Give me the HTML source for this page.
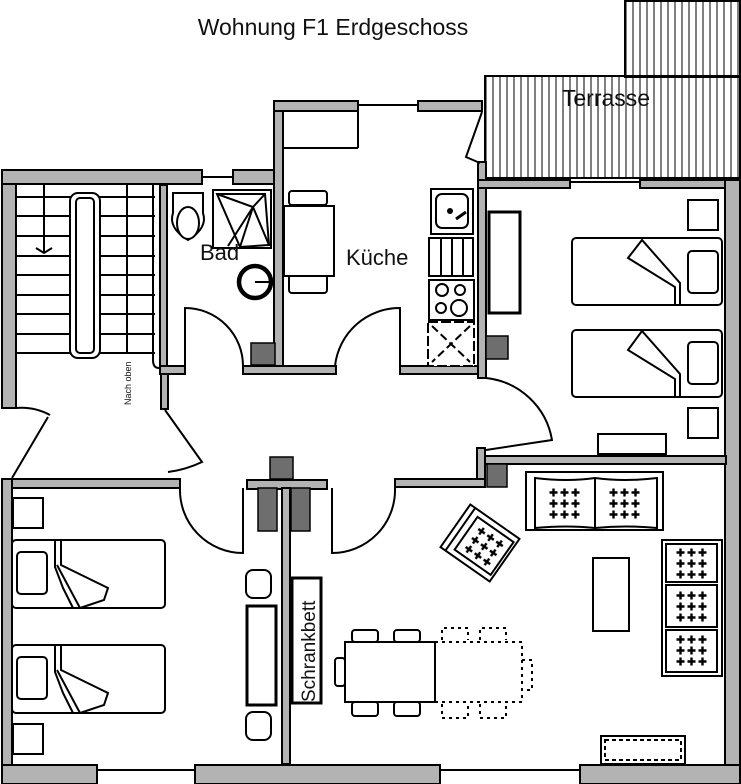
<!DOCTYPE html>
<html><head><meta charset="utf-8"><style>
html,body{margin:0;padding:0;background:#fff}
svg{display:block}
text{font-family:"Liberation Sans",sans-serif;fill:#111}
</style></head><body>
<svg width="741" height="784" viewBox="0 0 741 784" xmlns="http://www.w3.org/2000/svg">
<defs>
<pattern id="hatch" width="7" height="10" patternUnits="userSpaceOnUse"><line x1="3" y1="0" x2="3" y2="10" stroke="#000" stroke-width="1"/></pattern>
<pattern id="plus" patternUnits="objectBoundingBox" patternContentUnits="userSpaceOnUse" x="0" y="0" width="0.3333" height="0.3333"><path d="M5.5 1.5v8M1.5 5.5h8" stroke="#000" stroke-width="2.4"/></pattern>
</defs>
<text x="333" y="35" font-size="23" text-anchor="middle">Wohnung F1 Erdgeschoss</text>

<rect x="625" y="1" width="115" height="76" fill="url(#hatch)" stroke="#000" stroke-width="2"/>
<rect x="485" y="76" width="255" height="102" fill="url(#hatch)" stroke="#000" stroke-width="2"/>
<text x="606" y="106" font-size="23" text-anchor="middle">Terrasse</text>

<g fill="#b3b3b3" stroke="#000" stroke-width="2">
<rect x="2" y="170" width="14" height="238"/>
<rect x="2" y="170" width="200" height="14"/>
<rect x="233" y="170" width="47" height="14"/>
<rect x="274" y="101" width="9" height="270"/>
<rect x="274" y="101" width="84" height="10"/>
<rect x="418" y="101" width="64" height="10"/>
<rect x="160" y="185" width="7" height="186"/>
<rect x="160" y="366" width="25" height="8"/>
<rect x="243" y="366" width="93" height="8"/>
<rect x="400" y="366" width="82" height="8"/>
<rect x="478" y="162" width="8" height="216"/>
<rect x="161" y="374" width="7" height="35"/>
<rect x="478" y="180" width="92" height="8"/>
<rect x="640" y="180" width="101" height="8"/>
<rect x="725" y="180" width="15" height="604"/>
<rect x="484" y="456" width="242" height="8"/>
<rect x="477" y="448" width="8" height="38"/>
<rect x="395" y="479" width="90" height="8"/>
<rect x="2" y="479" width="178" height="9"/>
<rect x="2" y="479" width="10" height="305"/>
<rect x="247" y="480" width="80" height="9"/>
<rect x="282" y="488" width="8" height="276"/>
<rect x="2" y="765" width="95" height="19"/>
<rect x="195" y="765" width="245" height="19"/>
<rect x="580" y="765" width="160" height="19"/>
</g>
<g stroke="#000" stroke-width="2" fill="none">
<line x1="202" y1="177" x2="233" y2="177"/>
<line x1="358" y1="105" x2="418" y2="105"/>
<line x1="358" y1="111" x2="358" y2="148"/>
<line x1="283" y1="148" x2="358" y2="148"/>
<line x1="570" y1="182" x2="640" y2="182"/>
<line x1="97" y1="770" x2="195" y2="770"/>
<line x1="440" y1="770" x2="580" y2="770"/>
</g>
<g fill="#6e6e6e" stroke="#000" stroke-width="1.5">
<rect x="270" y="457" width="23" height="22"/>
<rect x="258" y="488" width="19" height="43"/>
<rect x="291" y="488" width="19" height="43"/>
<rect x="251" y="343" width="24" height="22"/>
<rect x="486" y="336" width="22" height="23"/>
<rect x="487" y="464" width="20" height="23"/>
</g>

<g stroke="#000" stroke-width="2" fill="none">
<path d="M16 197H155M16 216H155M16 236H155M16 256H155M16 275H155M16 295H155M16 314H155M16 334H155M16 353H155"/>
<path d="M44 184V253M127 184V353M36 248l8 5 8-5"/>
<rect x="70" y="193" width="30" height="165" rx="8" fill="#fff"/>
<rect x="76" y="198" width="18" height="155" rx="4"/>
<path d="M153 185V360q0 8 6 8"/>
<path d="M185 374V308A58 58 0 0 1 243 366"/>
<path d="M400 366V308A65 65 0 0 0 335 366"/>
<path d="M486 378A75 75 0 0 1 552 440L486 450"/>
<path d="M12 478L48 417M16 408A60 60 0 0 1 50 415"/>
<path d="M165 410L202 462Q185 470 168 472"/>
<path d="M180 488A63 63 0 0 0 243 553V488"/>
<path d="M395 488A63 63 0 0 1 332 553V488"/>
<path d="M482 112L466 157L480 163"/>
</g>
<text transform="translate(131,405) rotate(-90)" font-size="9">Nach oben</text>

<g stroke="#000" stroke-width="2" fill="#fff">
<path d="M173 193h30v20q5 15-15 27q-20-12-15-27z"/>
<ellipse cx="188" cy="223" rx="11" ry="16"/>
<rect x="213" y="190" width="58" height="58"/>
<path d="M217 194L265 194L269 245L240 247Z" fill="none"/>
<path d="M217 194L253 207L228 246M253 207L240 247M253 207L265 194M253 207L269 245" fill="none"/>
<circle cx="255" cy="282" r="16" stroke-width="4.5"/>
<path d="M255 282h14"/>
</g>
<text x="200" y="260" font-size="22">Bad</text>

<g stroke="#000" stroke-width="2" fill="#fff">
<rect x="289" y="191" width="38" height="14" rx="3"/>
<rect x="289" y="275" width="38" height="18" rx="3"/>
<rect x="284" y="206" width="50" height="70"/>
<rect x="431" y="189" width="42" height="45"/>
<rect x="436" y="194" width="32" height="34" rx="6"/>
<rect x="429" y="238" width="44" height="38"/>
<path d="M441 238v38M452 238v38M463 238v38"/>
<rect x="429" y="280" width="45" height="40"/>
<circle cx="442" cy="290" r="6"/><circle cx="460" cy="290" r="5"/><circle cx="441" cy="308" r="5"/><circle cx="459" cy="308" r="8"/>
<rect x="428" y="322" width="46" height="44" stroke-dasharray="10 3"/>
<path d="M432 326L470 362M470 326L432 362" stroke-dasharray="8 4"/>
</g>
<circle cx="450" cy="211" r="3"/><path d="M456 219l10-7" stroke="#000" stroke-width="3"/>
<text x="346" y="265" font-size="22">Küche</text>

<g stroke="#000" stroke-width="2" fill="#fff">
<rect x="489" y="212" width="31" height="101" stroke-width="3"/>
<rect x="688" y="200" width="30" height="30"/>
<rect x="572" y="238" width="150" height="67" rx="4"/>
<rect x="688" y="251" width="30" height="42" rx="4"/>
<path d="M628 258L642 240L680 283V305H675V287Z"/>
<rect x="572" y="330" width="150" height="67" rx="4"/>
<rect x="688" y="342" width="30" height="42" rx="4"/>
<path d="M628 350L642 331L680 374V397H675V379Z"/>
<rect x="688" y="408" width="30" height="30"/>
<rect x="598" y="434" width="68" height="20"/>
</g>

<g stroke="#000" stroke-width="2" fill="#fff">
<rect x="13" y="498" width="30" height="30"/>
<rect x="12" y="540" width="153" height="68" rx="4"/>
<rect x="17" y="552" width="30" height="42" rx="4"/>
<path d="M55 540V567L63 588L73 608M80 608L57 565M61 541V565L108 588L104 600L80 608"/>
<rect x="12" y="645" width="153" height="68" rx="4"/>
<rect x="17" y="657" width="30" height="42" rx="4"/>
<path d="M55 645V672L63 693L73 713M80 713L57 670M61 646V670L108 693L104 705L80 713"/>
<rect x="13" y="724" width="30" height="30"/>
<rect x="246" y="570" width="25" height="28" rx="7"/>
<rect x="247" y="606" width="29" height="99" stroke-width="3"/>
<rect x="246" y="712" width="25" height="28" rx="7"/>
<rect x="292" y="578" width="29" height="125" stroke-width="3"/>
</g>
<text transform="translate(315,702) rotate(-90)" font-size="19">Schrankbett</text>

<g stroke="#000" stroke-width="2" fill="#fff">
<rect x="526" y="472" width="137" height="58"/>
<path d="M535 478Q567 482 595 478Q625 482 657 478V528Q625 525 595 528Q567 525 535 528Z"/>
<path d="M595 478V528"/>
<g transform="translate(480,543) rotate(35)">
<rect x="-30" y="-26" width="60" height="52"/>
<rect x="-17" y="-20" width="44" height="40"/>
<path d="M-24 -26V26"/>
<rect x="-11" y="-16" width="33" height="33" fill="url(#plus)" stroke="none"/>
</g>
<rect x="662" y="540" width="60" height="136"/>
<path d="M666 544H717V582H666ZM666 585H717V627H666ZM666 630H717V672H666Z"/>
<rect x="593" y="558" width="36" height="73"/>
<rect x="345" y="642" width="90" height="60"/>
<rect x="352" y="630" width="26" height="12" rx="3"/>
<rect x="394" y="630" width="26" height="12" rx="3"/>
<rect x="352" y="702" width="26" height="14" rx="3"/>
<rect x="394" y="702" width="26" height="14" rx="3"/>
<rect x="335" y="658" width="10" height="28" rx="3"/>
<rect x="601" y="736" width="84" height="28"/>
<path d="M605 740h76v20h-76z" stroke-dasharray="4 3"/>
</g>
<g fill="url(#plus)">
<rect x="548" y="487" width="33" height="33"/>
<rect x="608" y="487" width="33" height="33"/>
<rect x="675" y="547" width="33" height="33"/>
<rect x="675" y="590" width="33" height="33"/>
<rect x="675" y="634" width="33" height="33"/>
</g>
<g stroke="#000" stroke-width="2" fill="none" stroke-dasharray="3 4">
<path d="M435 642H522V702H435"/>
<path d="M442 640V628h26v12M480 640V628h26v12M442 704v14h26v-14M480 704v14h26v-14M522 660h10v30h-10"/>
</g>
</svg>
</body></html>
